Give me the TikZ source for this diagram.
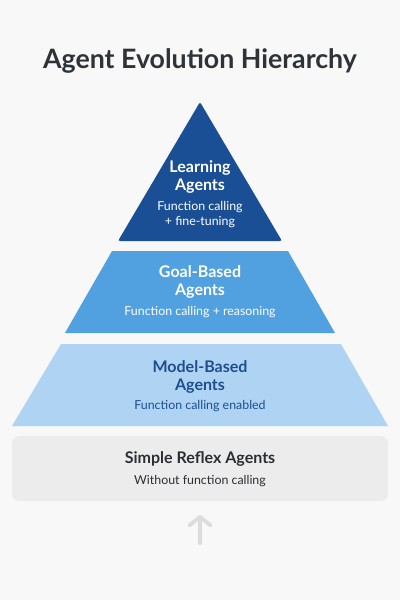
\documentclass[tikz,border=0pt]{standalone}
\usepackage{fontspec}
\setmainfont{Lato}
\usepackage{xcolor}
\usetikzlibrary{arrows.meta}

\definecolor{pagebg}{HTML}{F8F8F8}
\definecolor{titlegray}{HTML}{2F3337}
\definecolor{learnblue}{HTML}{1A4F96}
\definecolor{goalblue}{HTML}{51A0E0}
\definecolor{modelblue}{HTML}{AED3F3}
\definecolor{modeltext}{HTML}{1D4E8F}
\definecolor{reflexgray}{HTML}{ECECEC}
\definecolor{reflextext}{HTML}{2B2F33}
\definecolor{arrowgray}{HTML}{DCDCDC}

\tikzset{
  head/.style={align=center, font=\fontsize{11.4}{13.2}\selectfont\bfseries},
  sub/.style={align=center, font=\fontsize{8.8}{10.6}\selectfont},
}

\begin{document}
\begin{tikzpicture}[x=0.025cm,y=-0.025cm]
  \fill[pagebg] (0,0) rectangle (400,600);
  \useasboundingbox (0,0) rectangle (400,600);
  \node[text=titlegray, font=\fontsize{19}{22}\selectfont\bfseries] (title) at (200,61) {Agent Evolution Hierarchy};
  % pyramid tiers
  \coordinate (apex) at (200,102);
  \fill[learnblue, rounded corners=1.5] (apex) -- (282,241) -- (118,241) -- cycle;
  \fill[goalblue] (112,251) -- (288,251) -- (335,333) -- (65,333) -- cycle;
  \fill[modelblue] (61,344) -- (341,344) -- (388,426) -- (12,426) -- cycle;
  \fill[reflexgray, rounded corners=5] (12,436) rectangle (388,501);
  % labels
  \node[head, text=white] (learn) at (200,177) {Learning\\Agents};
  \node[sub, text=white] (learnsub) at (200,215) {Function calling\\+ fine-tuning};
  \node[head, text=white] (goal) at (200,282) {Goal-Based\\Agents};
  \node[sub, text=white] (goalsub) at (200,312) {Function calling + reasoning};
  \node[head, text=modeltext] (model) at (200,377) {Model-Based\\Agents};
  \node[sub, text=modeltext] (modelsub) at (200,406) {Function calling enabled};
  \node[head, text=reflextext] (reflex) at (200,459) {Simple Reflex Agents};
  \node[sub, text=reflextext] (reflexsub) at (200,481) {Without function calling};
  % arrow
  \coordinate (arrowfoot) at (200,543);
  \coordinate (arrowtip) at (200,515);
  \draw[arrowgray, line width=2.8pt, line cap=round, -{Straight Barb[length=6pt,width=15pt,round]}] (arrowfoot) -- (arrowtip);
\end{tikzpicture}
\end{document}
